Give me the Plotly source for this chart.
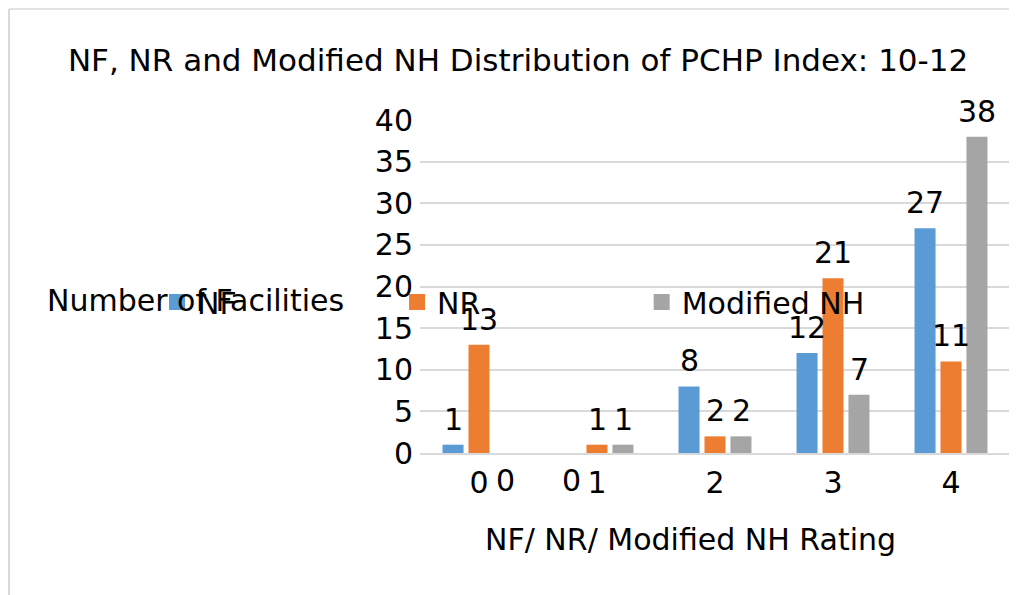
import plotly.graph_objects as go

categories = ["0", "1", "2", "3", "4"]
nf = [1, 0, 8, 12, 27]
nr = [13, 1, 2, 21, 11]
mod_nh = [0, 1, 2, 7, 38]

series_names = ["NF", "NR", "Modified NH"]
series_values = [nf, nr, mod_nh]
series_colors = ["#5B9BD5", "#ED7D31", "#A5A5A5"]
label_shifts = [-26, 0, 26]
legend_ids = ["legend", "legend2", "legend3"]
legend_x = [-0.4457, -0.0389, 0.3757]

FONT = "DejaVu Sans"
FS = 30

fig = go.Figure()
for name, vals, col in zip(series_names, series_values, series_colors):
    fig.add_trace(go.Bar(x=categories, y=vals, name=name, marker_color=col,
                         marker_line_width=0, showlegend=False))
# legend swatches (larger squares than the default bar legend icon)
for name, col, lid in zip(series_names, series_colors, legend_ids):
    fig.add_trace(go.Scatter(x=[None], y=[None], mode="markers", name=name,
                             marker=dict(symbol="square", size=16, color=col,
                                         line=dict(width=0)),
                             legend=lid, showlegend=True))

annotations = []
for vals, shift in zip(series_values, label_shifts):
    for c, v in zip(categories, vals):
        if v > 0:
            annotations.append(dict(x=c, y=v, xref="x", yref="y", text=str(v),
                                    showarrow=False, xshift=shift, yshift=6,
                                    yanchor="bottom", font=dict(size=FS, color="#000")))
        else:
            annotations.append(dict(x=c, y=v, xref="x", yref="y", text=str(v),
                                    showarrow=False, xshift=shift, yshift=-8,
                                    yanchor="top", font=dict(size=FS, color="#000")))

annotations.append(dict(x=-0.381, y=0.459, xref="paper", yref="paper",
                        text="Number of Facilities", showarrow=False,
                        xanchor="center", yanchor="middle",
                        font=dict(size=FS, color="#000")))
annotations.append(dict(x=0.459, y=-0.261, xref="paper", yref="paper",
                        text="NF/ NR/ Modified NH Rating", showarrow=False,
                        xanchor="center", yanchor="middle",
                        font=dict(size=FS, color="#000")))

shapes = [
    dict(type="line", xref="paper", yref="paper", x0=-0.6966, x1=-0.6966, y0=1.3333, y1=-0.5,
         line=dict(color="#D9D9D9", width=2)),
    dict(type="line", xref="paper", yref="paper", x0=-0.6966, x1=1.02, y0=1.3333, y1=1.3333,
         line=dict(color="#D9D9D9", width=1.5)),
]

legend_common = dict(orientation="h", xanchor="left", y=0.4535, yanchor="middle",
                     bgcolor="rgba(0,0,0,0)", font=dict(size=FS, color="#000"))

fig.update_layout(
    width=1009, height=587,
    margin=dict(l=412, r=7, t=112, b=142),
    paper_bgcolor="white", plot_bgcolor="white",
    font=dict(family=FONT, size=FS, color="#000"),
    title=dict(text="NF, NR and Modified NH Distribution of PCHP Index: 10-12",
               x=0.5055, xanchor="center", y=0.9114, yanchor="middle",
               font=dict(size=31, color="#000")),
    barmode="group", bargap=0.34, bargroupgap=0.19,
    showlegend=True,
    legend=dict(x=legend_x[0], **legend_common),
    legend2=dict(x=legend_x[1], **legend_common),
    legend3=dict(x=legend_x[2], **legend_common),
    annotations=annotations,
    shapes=shapes,
)
fig.update_xaxes(type="category", showgrid=False, showline=True, linecolor="#D9D9D9",
                 linewidth=2, ticks="", ticklabelstandoff=2,
                 tickfont=dict(size=FS, color="#000"))
fig.update_yaxes(range=[0, 40], dtick=5, showgrid=True, gridcolor="#D9D9D9", gridwidth=2,
                 zeroline=False, showline=False, ticks="", ticklabelstandoff=6,
                 tickfont=dict(size=FS, color="#000"))

fig.write_html("out.html")
